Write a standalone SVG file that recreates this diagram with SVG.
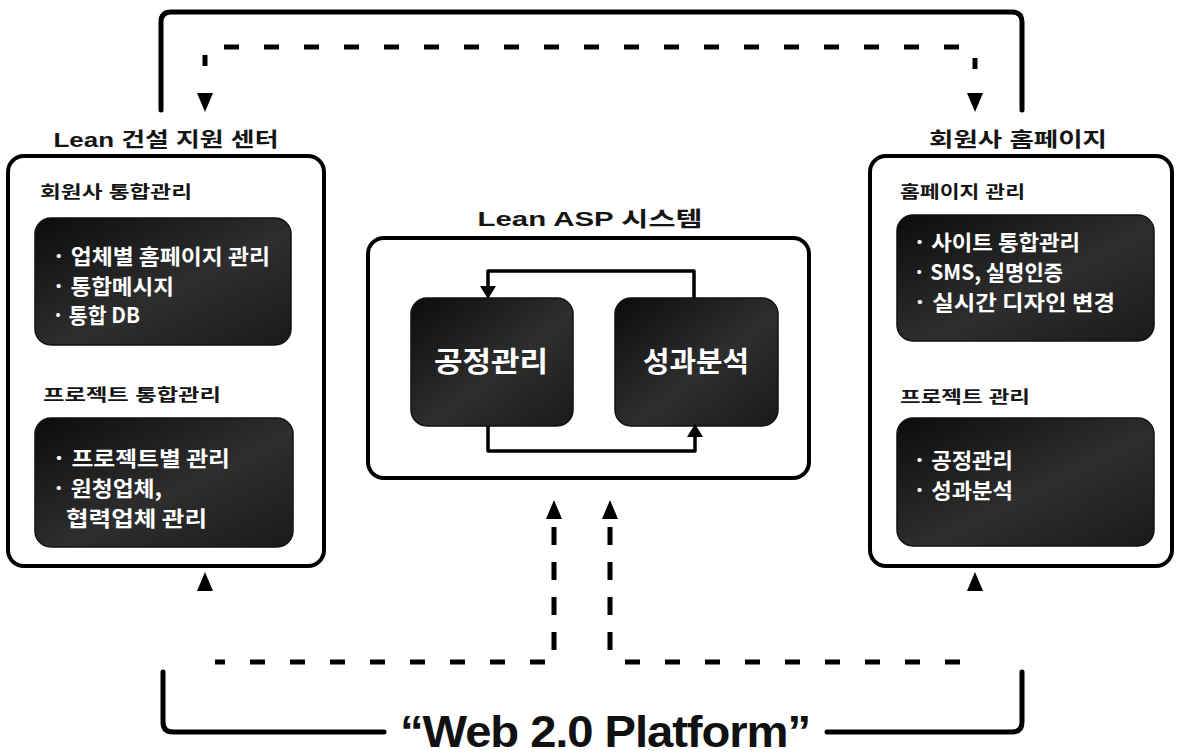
<svg xmlns="http://www.w3.org/2000/svg" width="1180" height="756" viewBox="0 0 1180 756">
<defs>
<style>
.frame{fill:none;stroke:#000;stroke-width:5;stroke-linecap:round;stroke-linejoin:round}
.box{fill:#fff;stroke:#000;stroke-width:4}
.dark{fill:url(#dg);stroke:#111;stroke-width:1.5}
.hd{font-family:"Liberation Sans","Noto Sans CJK KR",sans-serif;font-weight:bold;fill:#151515}
.t1{font-size:20px}
.t2{font-size:17px}
.wt{font-family:"Noto Sans CJK KR","Liberation Sans",sans-serif;font-weight:bold;fill:#fff;font-size:21px}
.big{font-family:"Noto Sans CJK KR","Liberation Sans",sans-serif;font-weight:bold;fill:#fff;font-size:28px}
.dash{fill:none;stroke:#000;stroke-width:5}
.solid{fill:none;stroke:#000;stroke-width:3.5;stroke-linejoin:round}
.ah{fill:#000}
</style>
<linearGradient id="dg" x1="0" y1="0" x2="1" y2="1">
<stop offset="0" stop-color="#0c0c0c"/>
<stop offset="0.55" stop-color="#2e2e2e"/>
<stop offset="1" stop-color="#1a1a1a"/>
</linearGradient>
</defs>
<rect width="1180" height="756" fill="#fff"/>

<g id="platform-frame">
<path class="frame" d="M161,110 V22 Q161,12 171,12 H1012 Q1022,12 1022,22 V110"/>
<path class="frame" d="M163,672 V722 Q163,732 173,732 H384"/>
<path class="frame" d="M827,732 H1012 Q1022,732 1022,722 V672"/>
<text x="605" y="747" text-anchor="middle" font-family="Liberation Sans, Arial, sans-serif" font-weight="bold" font-size="44" letter-spacing="-1" fill="#111" textLength="410" lengthAdjust="spacingAndGlyphs">“Web 2.0 Platform”</text>
</g>

<g id="lean-center">
<text class="hd t1" x="166" y="147" text-anchor="middle" textLength="225" lengthAdjust="spacingAndGlyphs">Lean 건설 지원 센터</text>
<rect class="box" x="8" y="156" width="316" height="410" rx="16"/>
<text class="hd t2" x="40" y="198" textLength="152" lengthAdjust="spacingAndGlyphs">회원사 통합관리</text>
<rect class="dark" x="35" y="218" width="256" height="127" rx="16"/>
<text class="wt" x="52" y="264" textLength="218" lengthAdjust="spacingAndGlyphs">· 업체별 홈페이지 관리</text>
<text class="wt" x="52" y="294" textLength="122" lengthAdjust="spacingAndGlyphs">· 통합메시지</text>
<text class="wt" x="52" y="323" textLength="88" lengthAdjust="spacingAndGlyphs">· 통합 DB</text>
<text class="hd t2" x="43" y="401" textLength="178" lengthAdjust="spacingAndGlyphs">프로젝트 통합관리</text>
<rect class="dark" x="35" y="418" width="258" height="129" rx="16"/>
<text class="wt" x="52" y="466" textLength="178" lengthAdjust="spacingAndGlyphs">· 프로젝트별 관리</text>
<text class="wt" x="52" y="496" textLength="110" lengthAdjust="spacingAndGlyphs">· 원청업체,</text>
<text class="wt" x="66" y="526" textLength="141" lengthAdjust="spacingAndGlyphs">협력업체 관리</text>
</g>

<g id="member-homepage">
<text class="hd t1" x="1018" y="147" text-anchor="middle" textLength="178" lengthAdjust="spacingAndGlyphs">회원사 홈페이지</text>
<rect class="box" x="870" y="156" width="302" height="410" rx="16"/>
<text class="hd t2" x="900" y="198" textLength="125" lengthAdjust="spacingAndGlyphs">홈페이지 관리</text>
<rect class="dark" x="897" y="215" width="257" height="126" rx="16"/>
<text class="wt" x="913" y="250" textLength="167" lengthAdjust="spacingAndGlyphs">· 사이트 통합관리</text>
<text class="wt" x="913" y="280" textLength="150" lengthAdjust="spacingAndGlyphs">· SMS, 실명인증</text>
<text class="wt" x="913" y="310" textLength="202" lengthAdjust="spacingAndGlyphs">· 실시간 디자인 변경</text>
<text class="hd t2" x="900" y="403" textLength="130" lengthAdjust="spacingAndGlyphs">프로젝트 관리</text>
<rect class="dark" x="897" y="418" width="257" height="128" rx="16"/>
<text class="wt" x="913" y="468" textLength="100" lengthAdjust="spacingAndGlyphs">· 공정관리</text>
<text class="wt" x="913" y="498" textLength="100" lengthAdjust="spacingAndGlyphs">· 성과분석</text>
</g>

<g id="lean-asp">
<text class="hd" x="590" y="226" text-anchor="middle" font-size="21" textLength="225" lengthAdjust="spacingAndGlyphs">Lean ASP 시스템</text>
<rect class="box" x="368" y="238" width="441" height="240" rx="16"/>
</g>
<g id="process-mgmt">
<rect class="dark" x="411" y="298" width="162" height="128" rx="16"/>
<text class="big" x="491" y="372" text-anchor="middle" textLength="114" lengthAdjust="spacingAndGlyphs">공정관리</text>
</g>
<g id="performance">
<rect class="dark" x="615" y="298" width="163" height="128" rx="16"/>
<text class="big" x="696" y="372" text-anchor="middle" textLength="106" lengthAdjust="spacingAndGlyphs">성과분석</text>
</g>

<g id="connectors">
<path class="solid" d="M694,298 V271 H488 V290"/>
<polygon class="ah" points="480,286 496,286 488,299"/>
<path class="solid" d="M488,426 V451 H695 V434"/>
<polygon class="ah" points="687,437 703,437 695,424"/>

<path class="dash" d="M224,47 H966" stroke-dasharray="15 25"/>
<line class="dash" x1="205" y1="55" x2="205" y2="66"/>
<polygon class="ah" points="197,93 213,93 205,112"/>
<line class="dash" x1="975" y1="58" x2="975" y2="69"/>
<polygon class="ah" points="967,93 983,93 975,112"/>

<path class="dash" d="M554,527 V650" stroke-dasharray="18 17"/>
<polygon class="ah" points="554,500 546,519 562,519"/>
<path class="dash" d="M610,527 V650" stroke-dasharray="18 17"/>
<polygon class="ah" points="610,500 602,519 618,519"/>
<path class="dash" d="M545,662 H215" stroke-dasharray="15 25"/>
<polygon class="ah" points="205,572 197,591 213,591"/>
<path class="dash" d="M625,662 H966" stroke-dasharray="15 25"/>
<polygon class="ah" points="975,572 967,591 983,591"/>
</g>
</svg>
